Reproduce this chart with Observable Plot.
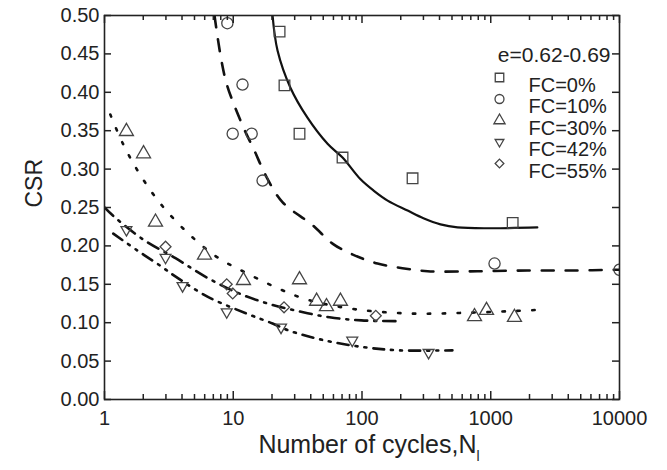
<!DOCTYPE html>
<html><head><meta charset="utf-8">
<script src="https://cdn.jsdelivr.net/npm/d3@7"></script>
<script src="https://cdn.jsdelivr.net/npm/@observablehq/plot@0.6"></script>
<style>body{margin:0;background:#fff}#chart{width:667px;height:470px}</style>
</head><body><div id="chart"></div>
<script>
// ---- measured points ----
const fc0N = [22.9, 25.0, 32.7, 70.6, 247, 1480];
const fc0CSR = [0.479, 0.409, 0.346, 0.315, 0.288, 0.230];
const fc10N = [9.0, 11.8, 9.9, 13.9, 16.9, 1070, 10000];
const fc10CSR = [0.490, 0.410, 0.346, 0.346, 0.285, 0.177, 0.169];
const fc30N = [1.48, 2.01, 2.49, 5.98, 12.0, 32.7, 44.4, 53, 68, 748, 927, 1528];
const fc30CSR = [0.349, 0.320, 0.231, 0.188, 0.155, 0.156, 0.128, 0.121, 0.128, 0.108, 0.116, 0.107];
const fc42N = [1.48, 2.98, 4.04, 8.9, 23.5, 84, 329];
const fc42CSR = [0.221, 0.185, 0.148, 0.114, 0.094, 0.077, 0.061];
const fc55N = [2.98, 8.9, 9.9, 24.8, 128];
const fc55CSR = [0.199, 0.150, 0.138, 0.120, 0.109];

// ---- fitted curves ----
const fc0LineN = [20.2, 22.1, 27.8, 37.7, 54, 70.6, 97, 123, 158, 226, 300, 407, 552, 995, 2300];
const fc0LineCSR = [0.500, 0.454, 0.406, 0.367, 0.333, 0.315, 0.287, 0.272, 0.259, 0.246, 0.236, 0.228, 0.224, 0.223, 0.224];
const fc10LineN = [7.15, 8.1, 9.0, 11.8, 14.6, 18.1, 24.1, 41.3, 59, 84, 132, 206, 323, 789, 1930, 4390, 10000];
const fc10LineCSR = [0.500, 0.441, 0.408, 0.357, 0.324, 0.290, 0.257, 0.227, 0.203, 0.189, 0.177, 0.171, 0.167, 0.167, 0.168, 0.168, 0.169];
const fc30LineN = [1.11, 1.40, 1.87, 2.72, 4.49, 7.55, 12.9, 22.1, 37.7, 84, 230, 660, 1930, 2520];
const fc30LineCSR = [0.371, 0.332, 0.294, 0.255, 0.216, 0.185, 0.164, 0.145, 0.130, 0.118, 0.112, 0.113, 0.116, 0.117];
const fc42LineN = [1.17, 1.80, 2.72, 3.50, 6.3, 13.1, 20.2, 26.8, 51, 104, 196, 504];
const fc42LineCSR = [0.216, 0.194, 0.174, 0.161, 0.134, 0.111, 0.099, 0.090, 0.077, 0.068, 0.064, 0.064];
const fc55LineN = [1.0, 1.17, 2.01, 3.56, 6.2, 10.8, 18.5, 32.1, 56, 99, 189];
const fc55LineCSR = [0.250, 0.239, 0.208, 0.184, 0.159, 0.139, 0.125, 0.115, 0.107, 0.103, 0.102];

// ---- axes / legend text ----
const xMajor = [1, 10, 100, 1000, 10000];
const yTicks = [0, 0.05, 0.1, 0.15, 0.2, 0.25, 0.3, 0.35, 0.4, 0.45, 0.5];
const seriesLabels = ["FC=0%", "FC=10%", "FC=30%", "FC=42%", "FC=55%"];
const legendTitle = "e=0.62-0.69";
const xLabel = "Number of cycles,N";
const xLabelSub = "l";
const yLabel = "CSR";

const xMinor = [];
for (let e = 0; e < 4; e++) for (let m = 2; m <= 9; m++) xMinor.push(m * 10 ** e);

const zip = (a, b) => a.map((v, i) => ({N: v, CSR: b[i]}));

const sq3 = Math.sqrt(3);
const triDown = {
  draw(ctx, size) {
    const s = Math.sqrt(size) * 0.6824, t = s / 2, u = s * sq3 / 2;
    ctx.moveTo(0, s); ctx.lineTo(u, -t); ctx.lineTo(-u, -t); ctx.closePath();
  }
};
const symbols = ["square", "circle", "triangle", triDown, "diamond2"];
const radii = [6.0, 5.6, 5.2, 5.2, 4.9];
const pointSets = [zip(fc0N, fc0CSR), zip(fc10N, fc10CSR), zip(fc30N, fc30CSR), zip(fc42N, fc42CSR), zip(fc55N, fc55CSR)];
const lineSets = [zip(fc0LineN, fc0LineCSR), zip(fc10LineN, fc10LineCSR), zip(fc30LineN, fc30LineCSR), zip(fc42LineN, fc42LineCSR), zip(fc55LineN, fc55LineCSR)];
const dashes = [null, "12,12", "2.4,12.5", "11,7,2,7,2,7", "12,7,2,7"];
const widths = [2.2, 2.6, 2.6, 2.6, 2.6];

const ink = "#222";
const marker = "#444";
const W = 667, H = 470, mL = 104, mR = 48, mT = 15, mB = 71;
const pw = W - mL - mR, ph = H - mT - mB;

const marks = [];
lineSets.forEach((d, i) => marks.push(Plot.line(d, {x: "N", y: "CSR", curve: "catmull-rom", stroke: "#111", strokeWidth: widths[i], strokeDasharray: dashes[i], clip: true})));
pointSets.forEach((d, i) => marks.push(Plot.dot(d, {x: "N", y: "CSR", symbol: symbols[i], r: radii[i], stroke: marker, strokeWidth: 1.3, fill: "none", clip: true})));

marks.push(
  Plot.axisX({anchor: "bottom", ticks: xMajor, tickSize: 0, tickPadding: 11, tickFormat: d => String(d), label: null, fontSize: 20, fill: ink}),
  Plot.axisY({anchor: "left", ticks: yTicks, tickSize: 0, tickPadding: 5, tickFormat: d3.format(".2f"), label: null, fontSize: 20, fill: ink}),
  Plot.frame({stroke: ink, strokeWidth: 1.6}),
  Plot.text([yLabel], {frameAnchor: "left", dx: -70, rotate: -90, fontSize: 23, fill: ink}),
  Plot.text([xLabel], {frameAnchor: "bottom", dx: 7, dy: 53, fontSize: 25, fill: ink, className: "xlab"}),
  Plot.text([legendTitle], {frameAnchor: "top-right", dx: -9, dy: 32, textAnchor: "end", fontSize: 21, fill: ink})
);
seriesLabels.forEach((lab, i) => {
  marks.push(
    Plot.dot([lab], {frameAnchor: "top-right", dx: -120, dy: 62 + i * 21.5, symbol: symbols[i], r: radii[i] * 0.8, stroke: marker, strokeWidth: 1.3, fill: "none"}),
    Plot.text([lab], {frameAnchor: "top-right", dx: -91, dy: 62 + i * 21.5, textAnchor: "start", fontSize: 20, fill: ink})
  );
});
// inward ticks on all four sides (drawn last)
const tk = {stroke: ink, strokeWidth: 1.5};
marks.push(
  Plot.tickX(xMajor, {x: d => d, insetTop: ph - 8, ...tk}),
  Plot.tickX(xMinor, {x: d => d, insetTop: ph - 5, ...tk}),
  Plot.tickX(xMajor, {x: d => d, insetBottom: ph - 8, ...tk}),
  Plot.tickX(xMinor, {x: d => d, insetBottom: ph - 5, ...tk}),
  Plot.tickY(yTicks, {y: d => d, insetRight: pw - 7, ...tk}),
  Plot.tickY(yTicks, {y: d => d, insetLeft: pw - 7, ...tk})
);

const chart = Plot.plot({
  width: W, height: H,
  marginLeft: mL, marginRight: mR, marginTop: mT, marginBottom: mB,
  style: {fontFamily: "'Liberation Sans', Arial, sans-serif", background: "#fff", color: ink},
  x: {type: "log", domain: [1, 10000], label: null},
  y: {domain: [0, 0.5], label: null},
  marks
});
document.getElementById("chart").append(chart);
// subscript on the x label
const xl = chart.querySelector(".xlab text");
if (xl) {
  const ts = document.createElementNS("http://www.w3.org/2000/svg", "tspan");
  ts.setAttribute("baseline-shift", "sub");
  ts.setAttribute("font-size", "14");
  ts.textContent = xLabelSub;
  xl.appendChild(ts);
}
</script>
</body></html>
